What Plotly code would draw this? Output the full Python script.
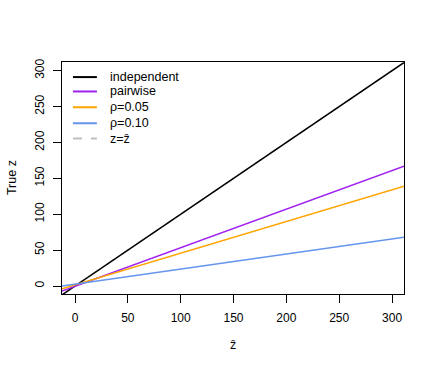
import plotly.graph_objects as go

# line end points (x = z-hat, y = true z)
x_ends = [-12.3, 311.3]
independent = [-12.3, 311.3]
pairwise = [-7, 167]
rho05 = [-4, 139]
rho10 = [0, 68]
identity = [-12.3, 311.3]

xticks = [0, 50, 100, 150, 200, 250, 300]
yticks = [0, 50, 100, 150, 200, 250, 300]

names = ['independent', 'pairwise', '\u03c1=0.05', '\u03c1=0.10', 'z=\u1e91']
colors = ['black', '#a020f0', '#ffa500', '#6495ed', '#c0c0c0']
dashes = ['solid', 'solid', 'solid', 'solid', 'dash']
values = [independent, pairwise, rho05, rho10, identity]

fig = go.Figure()
# identity line first so the black line sits on top of it
order = [4, 0, 1, 2, 3]
for i in order:
    fig.add_trace(go.Scatter(x=x_ends, y=values[i], mode='lines', name=names[i],
                             showlegend=False, hoverinfo='skip',
                             line=dict(color=colors[i], width=1.5, dash=dashes[i])))

# legend drawn R-style (tight rows, no box)
leg_y = [0.935, 0.873, 0.805, 0.736, 0.670]
for i in range(len(names)):
    fig.add_shape(type='line', xref='paper', yref='paper',
                  x0=0.032, x1=0.102, y0=leg_y[i], y1=leg_y[i],
                  line=dict(color=colors[i], width=2, dash='dash' if dashes[i] == 'dash' else 'solid'))
    fig.add_annotation(xref='paper', yref='paper', x=0.134, y=leg_y[i],
                       xanchor='left', yanchor='middle', showarrow=False,
                       text=names[i], font=dict(size=12.5, color='black'))

# axis titles
fig.add_annotation(xref='paper', yref='paper', x=0.5, y=-0.22, showarrow=False,
                   xanchor='center', yanchor='middle', text='\u1e91',
                   font=dict(size=12.5, color='black'))
fig.add_annotation(xref='paper', yref='paper', x=-0.146, y=0.5, showarrow=False,
                   xanchor='center', yanchor='middle', text='True z', textangle=-90,
                   font=dict(size=12.5, color='black'))

axis_common = dict(showgrid=False, zeroline=False, showline=True, mirror=True,
                   linecolor='black', linewidth=1, ticks='outside', ticklen=8,
                   tickcolor='black', tickfont=dict(size=12, color='black'),
                   automargin=False)

fig.update_layout(
    width=436, height=372,
    margin=dict(l=62, r=32, t=62, b=78),
    paper_bgcolor='white', plot_bgcolor='white',
    font=dict(family='Liberation Sans, Arial, sans-serif', size=12, color='black'),
    xaxis=dict(range=[-12.3, 311.3], tickvals=xticks, ticklabelstandoff=5, **axis_common),
    yaxis=dict(range=[-11.1, 312], tickvals=yticks, tickangle=-90,
               ticklabelstandoff=4, **axis_common),
    showlegend=False,
)

# drop the page's default body margin so the figure fills the window
fig.write_html("out.html", config={'displayModeBar': False},
               post_script="document.body.style.margin='0';")
